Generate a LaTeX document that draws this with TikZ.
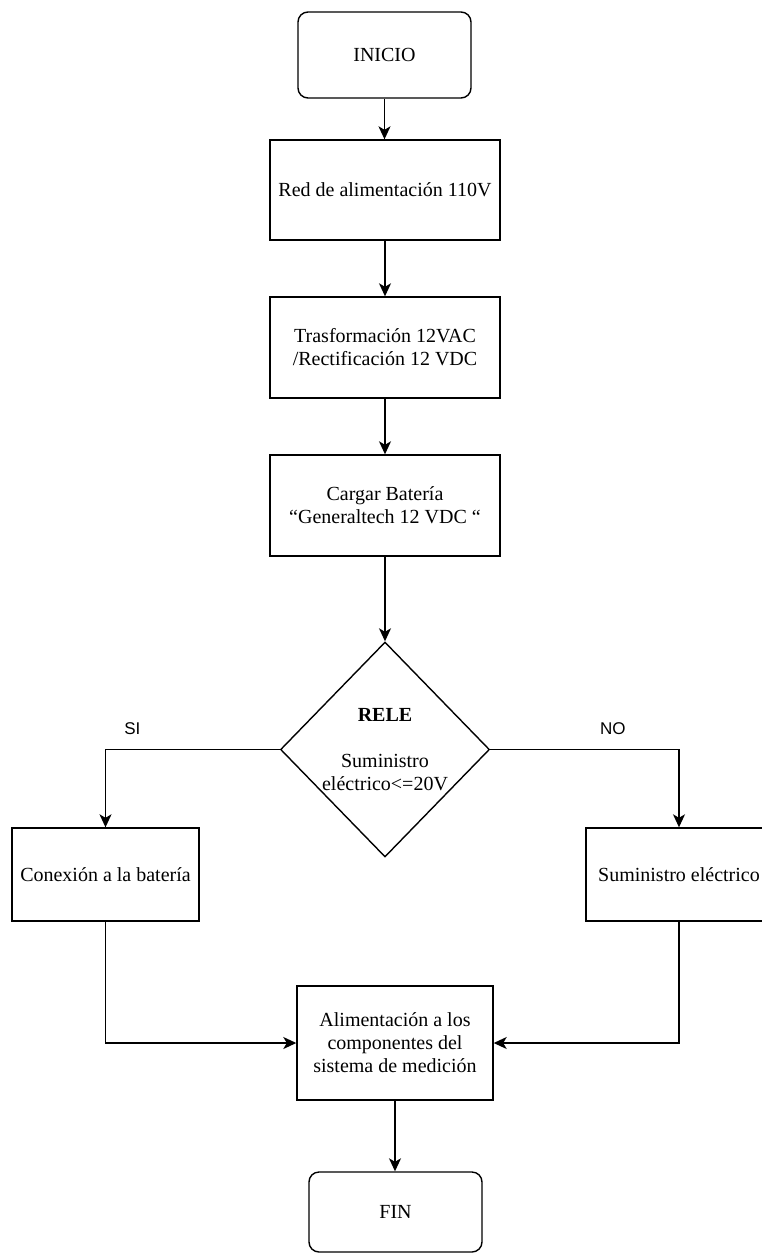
\documentclass[tikz,border=0pt]{standalone}
\usepackage{fontspec}
\setmainfont{Liberation Serif}
\setsansfont{Liberation Sans}
\usetikzlibrary{arrows.meta,shapes.geometric}
\tikzset{
  base/.style={draw, line width=1.4pt, font=\fontsize{20}{23}\selectfont, align=center, inner sep=0pt},
  term/.style={base, rounded corners=10pt},
  proc/.style={base},
  decis/.style={draw, line width=1.4pt, shape=diamond, inner sep=0pt},
  arr/.style={line width=1.4pt, -{Stealth[length=13pt,width=12pt,inset=3.5pt]}},
  lbl/.style={font=\sffamily\fontsize{17}{19}\selectfont, inner sep=0pt}
}
\begin{document}
\begin{tikzpicture}[x=1pt,y=-1pt]
\useasboundingbox (0,0) rectangle (761,1254);
\node[term, minimum width=173pt, minimum height=86pt] (inicio) at (384.5,55) {INICIO};
\node[proc, minimum width=230pt, minimum height=100pt] (red) at (385,190) {Red de alimentación 110V};
\node[proc, minimum width=230pt, minimum height=101pt] (tras) at (385,347.5) {Trasformación 12VAC\\/Rectificación 12 VDC};
\node[proc, minimum width=230pt, minimum height=101pt] (cargar) at (385,505.5) {Cargar Batería\\“Generaltech 12 VDC “};
\node[decis, minimum width=209pt, minimum height=215pt] (rele) at (385,749.5) {};
\node[font=\fontsize{20}{23}\selectfont, align=center, inner sep=0pt] (reletext) at (385,749.5) {\textbf{RELE}\\[23pt]Suministro\\eléctrico<=20V};
\node[proc, minimum width=187pt, minimum height=93pt] (conex) at (105.5,874.5) {Conexión a la batería};
\node[proc, minimum width=186pt, minimum height=93pt] (sumin) at (679,874.5) {Suministro eléctrico};
\node[proc, minimum width=196pt, minimum height=114pt] (alim) at (395,1043) {Alimentación a los\\componentes del\\sistema de medición};
\node[term, minimum width=173pt, minimum height=80pt] (fin) at (395.5,1212) {FIN};

\draw[arr] (inicio.south) -- (inicio.south |- red.north);
\draw[arr] (red.south) -- (tras.north);
\draw[arr] (tras.south) -- (cargar.north);
\draw[arr] (cargar.south) -- (rele.north);
\draw[arr] (rele.west) -| node[lbl, pos=0.423, above=14pt] (si) {SI} (conex.north);
\draw[arr] (rele.east) -| node[lbl, pos=0.325, above=14pt] (no) {NO} (sumin.north);
\draw[arr] (conex.south) |- (alim.west);
\draw[arr] (sumin.south) |- (alim.east);
\draw[arr] (alim.south) -- (alim.south |- fin.north);
\end{tikzpicture}
\end{document}
